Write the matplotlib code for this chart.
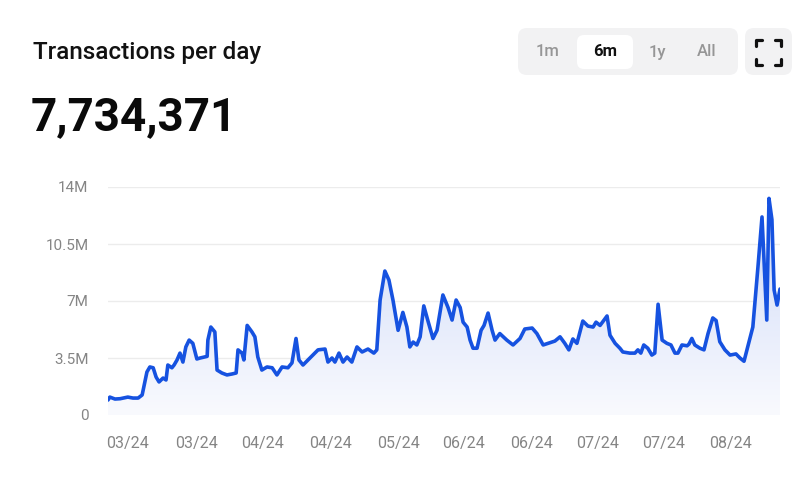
import matplotlib
matplotlib.use("Agg")
import matplotlib.pyplot as plt
import matplotlib.dates as mdates
import numpy as np
from matplotlib.patches import FancyBboxPatch, Polygon
from matplotlib.colors import LinearSegmentedColormap
from matplotlib.ticker import FuncFormatter

plt.rcParams["font.family"] = ["Roboto", "DejaVu Sans"]

START = "2024-02-28"

# days since START
days = [0, 0.5, 1.9, 3.3, 5.4, 6.8, 8.2, 9.3, 10.6, 11.4, 12.3, 13.1, 13.9, 15.0,
        15.8, 16.3, 17.4, 18.0, 18.8, 19.6, 20.4, 21.2, 22.1, 23.1, 24.2, 25.1,
        27.0, 27.2, 28.0, 29.1, 29.7, 31.0, 32.4, 33.8, 34.9, 35.4, 36.5, 37.0,
        37.9, 39.2, 40.0, 40.8, 41.9, 43.3, 44.7, 46.0, 47.4, 49.0, 50.1, 51.2,
        52.0, 53.1, 55.0, 57.2, 59.1, 59.9, 61.0, 61.8, 62.9, 64.0, 65.1, 66.4,
        67.8, 69.2, 70.8, 72.4, 73.2, 74.1, 75.4, 76.5, 77.6, 79.0, 80.3, 81.4,
        82.2, 83.1, 84.1, 85.0, 86.0, 87.1, 88.5, 89.6, 91.2, 92.6, 93.7, 94.8,
        95.9, 96.7, 97.8, 98.6, 99.4, 100.5, 101.6, 102.4, 103.5, 104.6, 105.4,
        106.7, 108.6, 110.3, 112.2, 113.5, 115.5, 116.8, 118.5, 119.8, 121.7,
        123.1, 124.4, 125.5, 126.6, 127.7, 129.3, 130.7, 132.1, 132.9, 134.0,
        135.9, 136.7, 138.1, 139.4, 140.2, 142.1, 143.5, 144.3, 145.1, 145.9,
        147.0, 148.1, 148.9, 149.8, 150.9, 152.2, 153.3, 154.4, 155.2, 156.3,
        157.7, 158.2, 159.0, 159.8, 161.2, 162.3, 163.4, 164.7, 165.6, 166.6,
        168.0, 169.4, 171.0, 172.1, 173.2, 174.0, 175.6, 177.0, 178.1, 179.4,
        180.0, 180.8, 181.4, 182.2, 183.0]

# transactions, millions
tx_m = [0.92, 1.1, 0.98, 1.0, 1.1, 1.04, 1.04, 1.23, 2.64, 2.95, 2.9, 2.33, 2.03, 2.27,
        2.15, 3.07, 2.9, 3.07, 3.38, 3.8, 3.25, 4.18, 4.6, 4.4, 3.44, 3.5,
        3.6, 4.6, 5.4, 5.1, 2.76, 2.58, 2.46, 2.52, 2.58, 4.0, 3.8, 3.38,
        5.5, 5.1, 4.8, 3.56, 2.76, 2.95, 2.9, 2.46, 2.95, 2.9, 3.2, 4.7,
        3.38, 3.07, 3.5, 4.0, 4.05, 3.25, 3.5, 3.25, 3.8, 3.25, 3.56, 3.25,
        4.18, 3.87, 4.05, 3.8, 4.0, 7.06, 8.84, 8.29, 7.06, 5.2, 6.3, 5.4,
        4.18, 4.48, 4.3, 4.8, 6.7, 5.8, 4.7, 5.2, 7.37, 6.6, 5.83, 7.06,
        6.6, 5.7, 5.4, 4.6, 4.1, 4.1, 5.2, 5.5, 6.26, 5.2, 4.6,
        5.0, 4.6, 4.3, 4.7, 5.28, 5.34, 5.0, 4.3, 4.4, 4.54,
        4.8, 4.4, 4.0, 4.67, 4.4, 5.77, 5.46, 5.4, 5.7, 5.5,
        6.08, 4.9, 4.4, 4.1, 3.87, 3.8, 3.8, 4.0, 3.8, 4.3,
        4.1, 3.68, 3.8, 6.8, 4.6, 4.4, 4.3, 3.8, 3.8, 4.3,
        4.25, 4.35, 4.7, 4.3, 4.1, 4.0, 5.0, 5.96, 5.8, 4.5,
        4.0, 3.68, 3.75, 3.5, 3.3, 4.0, 5.4, 9.1, 12.16, 5.83,
        13.3, 12.0, 7.67, 6.75, 7.734371]

tick_days = [5.4, 24.2, 42.2, 60.7, 79.0, 96.9, 115.2, 133.4, 151.4, 169.6]
y_ticks = [0, 3.5e6, 7e6, 10.5e6, 14e6]
ranges = ["1m", "6m", "1y", "All"]
active_range = "6m"

LINE = "#1652e0"
GREY = "#858585"

t0 = mdates.datestr2num(START)
x = t0 + np.array(days)
y = np.array(tx_m) * 1e6

W, H = 811, 483
fig = plt.figure(figsize=(W / 100, H / 100), dpi=100)

# pixel overlay for header and buttons
ov = fig.add_axes([0, 0, 1, 1])
ov.set_xlim(0, W)
ov.set_ylim(H, 0)
ov.axis("off")

ov.text(33, 53, "Transactions per day", fontsize=17.5, fontweight="medium",
        color="#111111", va="center", ha="left")
ov.text(31, 130, f"{int(round(y[-1])):,}", fontsize=33, fontweight="bold",
        color="#0a0a0a", va="baseline", ha="left")

ov.add_patch(FancyBboxPatch((518, 28), 220, 47, boxstyle="round,pad=0,rounding_size=9",
                            fc="#f2f2f3", ec="none"))
ov.add_patch(FancyBboxPatch((577, 35), 56, 34, boxstyle="round,pad=0,rounding_size=7",
                            fc="white", ec="none"))
for lbl, cx in zip(ranges, [548, 605, 657, 707]):
    on = lbl == active_range
    ov.text(cx, 52, lbl, fontsize=12, ha="center", va="center",
            color="#111111" if on else "#969696", fontweight="bold" if on else "medium")

ov.add_patch(FancyBboxPatch((745, 28), 47, 47, boxstyle="round,pad=0,rounding_size=9",
                            fc="#f2f2f3", ec="none"))
cx, cy, s, a = 768, 52, 12.5, 6
for sx in (-1, 1):
    for sy in (-1, 1):
        ov.plot([cx + sx * s, cx + sx * s, cx + sx * (s - a)],
                [cy + sy * (s - a), cy + sy * s, cy + sy * s],
                color="#111111", lw=2.3, solid_capstyle="round", solid_joinstyle="round")

# chart
ax = fig.add_axes([108 / W, (H - 415) / H, 672 / W, 228 / H])
ax.set_xlim(x[0], x[-1])
ax.set_ylim(0, 14e6)
for s_ in ax.spines.values():
    s_.set_visible(False)
ax.set_yticks(y_ticks)
ax.yaxis.set_major_formatter(FuncFormatter(lambda v, p: "0" if v == 0 else f"{v / 1e6:g}M"))
ax.set_xticks(t0 + np.array(tick_days))
ax.xaxis.set_major_formatter(mdates.DateFormatter("%m/%y"))
ax.tick_params(axis="y", length=0, pad=14, labelsize=11, labelcolor=GREY)
ax.tick_params(axis="x", length=0, pad=15, labelsize=11.5, labelcolor=GREY)
ax.grid(axis="y", color="#ececec", lw=1)
ax.set_axisbelow(True)

cmap = LinearSegmentedColormap.from_list("fade", ["#f9fafe", "#cbd7f7"])
grad = np.linspace(0, 1, 256).reshape(-1, 1)
im = ax.imshow(grad, cmap=cmap, aspect="auto", origin="lower",
               extent=[x[0], x[-1], 0, 14e6], zorder=1)
verts = np.column_stack([np.r_[x[0], x, x[-1]], np.r_[0, y, 0]])
poly = Polygon(verts, closed=True, fc="none", ec="none")
ax.add_patch(poly)
im.set_clip_path(poly)

ax.plot(x, y, color=LINE, lw=2.6, solid_joinstyle="round", solid_capstyle="round", zorder=3)

fig.savefig("out.png", dpi=100)
